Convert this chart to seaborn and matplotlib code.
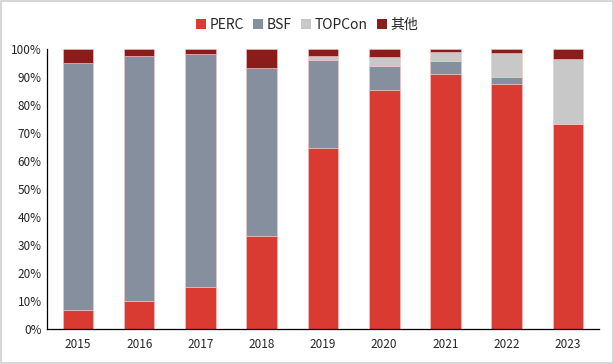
import numpy as np
import pandas as pd
import matplotlib
matplotlib.use("Agg")
import matplotlib.pyplot as plt
import seaborn as sns
from matplotlib.patches import Patch
from matplotlib.ticker import PercentFormatter, FixedLocator

# ----------------------------
# Dados (participação de mercado, %)
# ----------------------------
years = ["2015", "2016", "2017", "2018", "2019", "2020", "2021", "2022", "2023"]
perc = [6.8, 10.0, 15.0, 33.2, 64.8, 85.5, 91.3, 87.5, 73.3]
bsf = [88.2, 87.5, 83.2, 60.0, 31.4, 8.5, 4.5, 2.5, 0.0]
topcon = [0.0, 0.0, 0.0, 0.0, 1.2, 3.2, 3.2, 8.5, 23.2]
others = [5.0, 2.5, 1.8, 6.8, 2.6, 2.8, 1.0, 1.5, 3.5]

series_names = ["PERC", "BSF", "TOPCon", "其他"]
colors = ["#D93A32", "#858F9D", "#C8C8C8", "#8B1C1C"]

sns.set_style("white")
plt.rcParams["font.family"] = ["Noto Sans CJK SC", "DejaVu Sans"]

df = pd.DataFrame({"year": years, "PERC": perc, "BSF": bsf,
                   "TOPCon": topcon, "其他": others})

fig, ax = plt.subplots(figsize=(6.14, 3.64), dpi=100)
fig.subplots_adjust(left=0.077, right=0.975, top=0.865, bottom=0.095)

bottom = np.zeros(len(years))
for name, col in zip(series_names, colors):
    sns.barplot(data=df, x="year", y=name, bottom=bottom, color=col,
                width=0.5, ax=ax, saturation=1, legend=False,
                edgecolor="#F4C6C4", linewidth=0.4)
    bottom = bottom + df[name].values

ax.set_ylim(0, 100)
ax.set_xlim(-0.5, len(years) - 0.5)
ax.set_yticks(range(0, 101, 10))
ax.yaxis.set_major_formatter(PercentFormatter(decimals=0))
ax.set_xlabel("")
ax.set_ylabel("")

for s in ["top", "right"]:
    ax.spines[s].set_visible(False)
for s in ["left", "bottom"]:
    ax.spines[s].set_color("black")
    ax.spines[s].set_linewidth(0.9)

ax.tick_params(axis="y", length=0, labelsize=8.5, pad=4)
ax.tick_params(axis="x", which="major", length=0, labelsize=8.5, pad=6)
ax.xaxis.set_minor_locator(FixedLocator(np.arange(-0.5, len(years), 1.0)))
ax.tick_params(axis="x", which="minor", length=4, width=0.9, direction="out")

handles = [Patch(facecolor=c, edgecolor="none", label=n) for n, c in zip(series_names, colors)]
fig.legend(handles=handles, loc="upper center", bbox_to_anchor=(0.5, 0.985),
           ncol=4, frameon=False, fontsize=10, handlelength=0.7,
           handleheight=0.7, handletextpad=0.25, columnspacing=0.7)

# borda cinza da figura
fig.patches.append(plt.Rectangle((0.002, 0.003), 0.996, 0.994, transform=fig.transFigure,
                                 fill=False, edgecolor="#D0D0D0", linewidth=1.2))

plt.savefig("out.png", dpi=100)
